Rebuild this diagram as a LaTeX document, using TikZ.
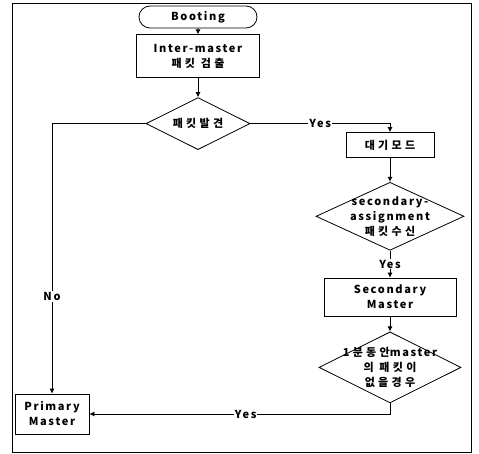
\documentclass[tikz,border=0pt]{standalone}
\usepackage{fontspec}
\setmainfont{Noto Sans CJK KR}[LetterSpace=15]
\newfontfamily\krfont{Noto Sans CJK KR}[LetterSpace=30]
\usetikzlibrary{arrows.meta,positioning,shapes.geometric,shapes.misc}
\tikzset{
  chart text/.style={font=\fontsize{11}{15}\selectfont\bfseries,align=center,text=black},
  chart box/.style={draw,line width=0.8pt,chart text,inner sep=0pt},
  chart terminal/.style={draw,line width=0.8pt,rounded rectangle,chart text,inner sep=0pt},
  chart decision/.style={draw,line width=0.8pt,diamond,inner sep=0pt},
  chart arrow/.style={-{Latex[length=5pt,width=5pt]},line width=0.8pt},
  chart label/.style={chart text,fill=white,inner sep=1pt}
}
\begin{document}
\begin{tikzpicture}[x=1pt,y=-1pt]
  \useasboundingbox (0,0) rectangle (479,454);
  \draw[line width=0.8pt] (12,3) rectangle (471,452);
  % main column
  \node[chart terminal,minimum width=118pt,minimum height=22pt] (boot) at (198,17) {Booting};
  \node[chart box,minimum width=123pt,minimum height=43pt,below=6pt of boot] (detect) {Inter-master\\{\krfont\bfseries 패킷 검출}};
  \node[chart decision,minimum width=104pt,minimum height=52pt,below=19pt of detect,
    label={[chart text]center:{\krfont\bfseries 패킷발견}}] (found) {};
  % right column
  \node[chart box,minimum width=88pt,minimum height=25pt] (standby) at (390,145) {{\krfont\bfseries 대기모드}};
  \node[chart decision,minimum width=148pt,minimum height=68pt,below=24pt of standby,
    label={[chart text]center:secondary-\\assignment\\{\krfont\bfseries 패킷수신}}] (recv) {};
  \node[chart box,minimum width=132pt,minimum height=38pt,below=27pt of recv] (secm) {Secondary\\Master};
  \node[chart decision,minimum width=142pt,minimum height=71pt,below=15pt of secm,
    label={[chart text]center:{\krfont\bfseries 1분동안}master\\{\krfont\bfseries 의 패킷이}\\{\krfont\bfseries 없을경우}}] (nomsg) {};
  \node[chart box,minimum width=74pt,minimum height=40pt] (prim) at (52,414) {Primary\\Master};
  % connectors
  \draw[chart arrow] (boot) -- (detect);
  \draw[chart arrow] (detect) -- (found);
  \draw[chart arrow] (found.west) -| node[chart label,pos=0.82] {No} (prim.north);
  \draw[chart arrow] (found.east) -| node[chart label,pos=0.25] {Yes} (standby.north);
  \draw[chart arrow] (standby) -- (recv);
  \draw[chart arrow] (recv) -- node[chart label] {Yes} (secm);
  \draw[chart arrow] (secm) -- (nomsg);
  \draw[chart arrow] (nomsg.south) |- node[chart label,pos=0.74] {Yes} (prim.east);
\end{tikzpicture}
\end{document}
